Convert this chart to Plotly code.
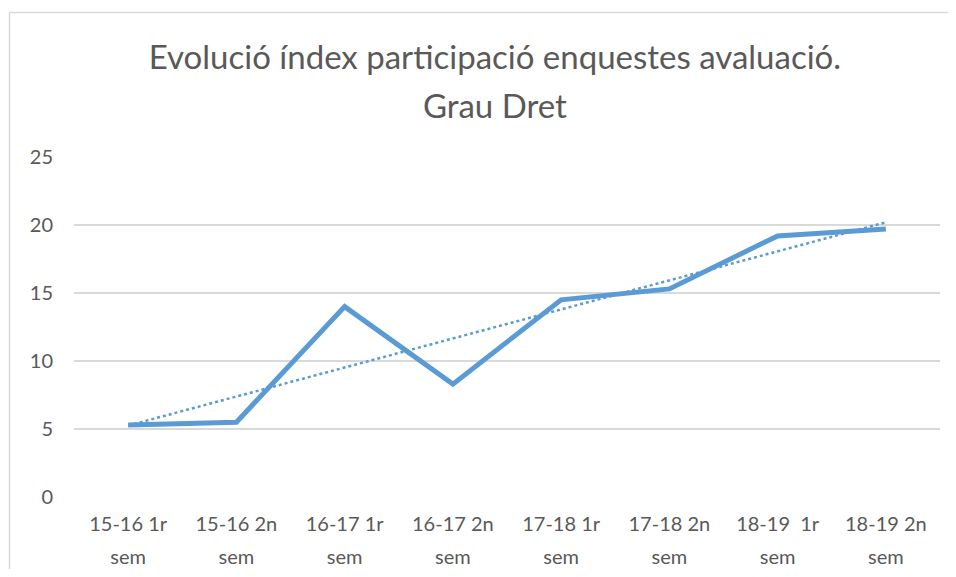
import plotly.graph_objects as go
import numpy as np

# Dades: índex de participació per semestre
categories = ['15-16 1r<br>sem', '15-16 2n<br>sem', '16-17 1r<br>sem', '16-17 2n<br>sem',
              '17-18 1r<br>sem', '17-18 2n<br>sem', '18-19\u00a0 1r<br>sem', '18-19 2n<br>sem']
values = [5.3, 5.5, 14.0, 8.3, 14.5, 15.3, 19.2, 19.7]
y_ticks = [0, 5, 10, 15, 20, 25]
title_lines = ['Evolució índex participació enquestes avaluació.', 'Grau Dret']

blau = '#5b9bd5'
gris_text = '#595959'
font_nom = 'Lato, Open Sans, sans-serif'


def espaiat(text, px):
    # cada línia amb mida petita; l'interlineat el dona la mida de la font base
    return '<br>'.join("<span style='font-size:%dpx'>%s</span>" % (px, t) for t in text.split('<br>'))


# línia de tendència lineal (com la d'Excel)
xi = np.arange(1, len(values) + 1)
m, b = np.polyfit(xi, values, 1)
trend = m * xi + b

fig = go.Figure()
fig.add_trace(go.Scatter(
    x=categories, y=trend, mode='lines',
    line=dict(color=blau, width=2.5, dash='dot'),
    hoverinfo='skip'
))
fig.add_trace(go.Scatter(
    x=categories, y=values, mode='lines',
    line=dict(color=blau, width=5)
))

# la pàgina té 8px de marge al body, per això tot va desplaçat 8px
fig.update_layout(
    width=940, height=561,
    margin=dict(l=66, r=8, t=149, b=72),
    paper_bgcolor='white',
    plot_bgcolor='white',
    showlegend=False,
    font=dict(family=font_nom, color=gris_text, size=20),
    title=dict(
        text=espaiat('<br>'.join(title_lines), 33),
        x=0.518, xanchor='center', y=0.892, yanchor='middle', yref='container',
        font=dict(size=38, color=gris_text, family=font_nom)
    ),
    xaxis=dict(
        range=[-0.5, 7.5], showgrid=False, showline=False, zeroline=False,
        automargin=False,
        ticks='', tickmode='array', tickvals=categories,
        ticktext=[espaiat(c, 20) for c in categories],
        tickfont=dict(size=25), ticklabelstandoff=8
    ),
    yaxis=dict(
        range=[0, 25], tickvals=y_ticks, showgrid=True, gridcolor='#d9d9d9',
        gridwidth=1.5, zeroline=False, showline=False, ticks='',
        automargin=False,
        tickfont=dict(size=20), ticklabelstandoff=20
    ),
    shapes=[
        dict(type='line', xref='paper', yref='paper', x0=-0.0745, x1=1.02,
             y0=1.425, y1=1.425, line=dict(color='#d9d9d9', width=1.5)),
        dict(type='line', xref='paper', yref='paper', x0=-0.0745, x1=-0.0745,
             y0=1.425, y1=-0.24, line=dict(color='#d9d9d9', width=1.5)),
    ]
)

fig.write_html("out.html")
